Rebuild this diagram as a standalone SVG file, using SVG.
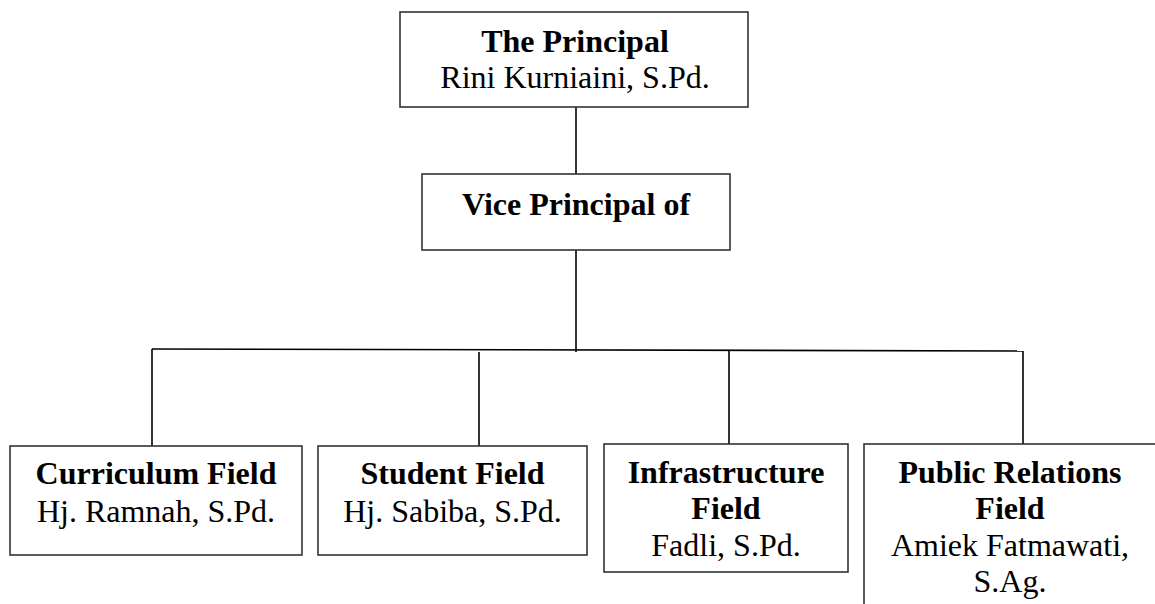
<svg xmlns="http://www.w3.org/2000/svg" width="1155" height="604" viewBox="0 0 1155 604">
<style>
.box{fill:#fff;stroke:#333;stroke-width:1.6}
.t{font-family:"Liberation Serif","Times New Roman",serif;font-size:32px;fill:#000;text-anchor:middle}
.b{font-weight:bold}
.ln{stroke:#000;stroke-width:1.6;fill:none}
</style>
<rect width="1155" height="604" fill="#fff"/>
<g id="connectors">
<line class="ln" x1="576" y1="107" x2="576" y2="174"/>
<line class="ln" x1="576" y1="250" x2="576" y2="352"/>
<line class="ln" x1="152" y1="349" x2="1023" y2="351" stroke-width="2"/>
<line class="ln" x1="152" y1="349" x2="152" y2="446"/>
<line class="ln" x1="479" y1="352" x2="479" y2="446"/>
<line class="ln" x1="729" y1="351" x2="729" y2="444"/>
<line class="ln" x1="1023" y1="351" x2="1023" y2="444"/>
</g>
<g id="principal">
<rect class="box" x="400" y="12" width="348" height="95"/>
<text class="t b" x="575" y="52">The Principal</text>
<text class="t" x="575" y="88">Rini Kurniaini, S.Pd.</text>
</g>
<g id="vice">
<rect class="box" x="422" y="174" width="308" height="76"/>
<text class="t b" x="576" y="215">Vice Principal of</text>
</g>
<g id="curriculum">
<rect class="box" x="10" y="446" width="292" height="109"/>
<text class="t b" x="156" y="484">Curriculum Field</text>
<text class="t" x="156" y="522">Hj. Ramnah, S.Pd.</text>
</g>
<g id="student">
<rect class="box" x="318" y="446" width="269" height="109"/>
<text class="t b" x="452.5" y="484">Student Field</text>
<text class="t" x="452.5" y="522">Hj. Sabiba, S.Pd.</text>
</g>
<g id="infrastructure">
<rect class="box" x="604" y="444" width="244" height="128"/>
<text class="t b" x="726" y="483">Infrastructure</text>
<text class="t b" x="726" y="519">Field</text>
<text class="t" x="726" y="556">Fadli, S.Pd.</text>
</g>
<g id="public-relations">
<rect class="box" x="864" y="444" width="294" height="170"/>
<text class="t b" x="1010" y="483">Public Relations</text>
<text class="t b" x="1010" y="519">Field</text>
<text class="t" x="1010" y="556">Amiek Fatmawati,</text>
<text class="t" x="1010" y="592">S.Ag.</text>
</g>
</svg>
